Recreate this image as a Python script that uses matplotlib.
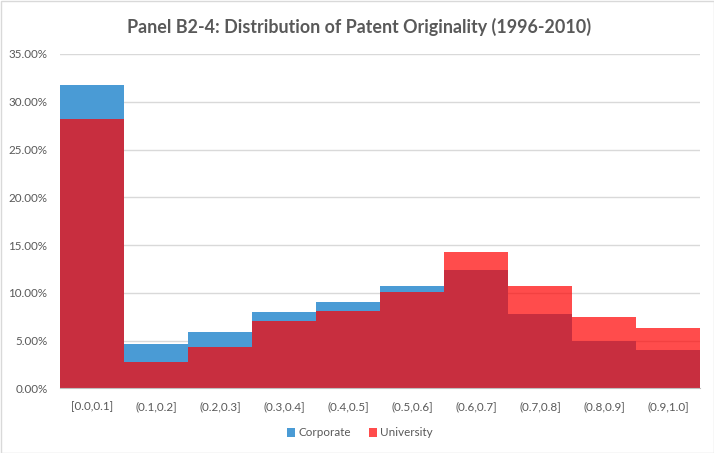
import matplotlib
matplotlib.use("Agg")
import matplotlib.pyplot as plt
from matplotlib.patches import Rectangle
from matplotlib.ticker import PercentFormatter
import numpy as np

categories = ["[0.0,0.1]", "(0.1,0.2]", "(0.2,0.3]", "(0.3,0.4]", "(0.4,0.5]",
              "(0.5,0.6]", "(0.6,0.7]", "(0.7,0.8]", "(0.8,0.9]", "(0.9,1.0]"]
corporate = [31.71, 4.64, 5.93, 8.03, 9.04, 10.69, 12.43, 7.82, 4.96, 4.05]
university = [28.19, 2.76, 4.30, 7.05, 8.13, 10.12, 14.31, 10.69, 7.47, 6.29]
yticks = [0, 5, 10, 15, 20, 25, 30, 35]

plt.rcParams['font.family'] = ['Lato', 'DejaVu Sans']
gray = "#595959"

fig = plt.figure(figsize=(7.14, 4.53), dpi=100)
ax = fig.add_axes([60/714, 1-388.3/453, 640/714, (388.3-54)/453])

x = np.arange(len(categories))
ax.bar(x, corporate, width=1.0, color="#4A9BD5", label="Corporate", zorder=2)
ax.bar(x, university, width=1.0, color=(1, 0, 0, 0.7), label="University", zorder=3)

ax.set_xlim(-0.5, len(categories) - 0.5)
ax.set_ylim(0, 35)
ax.set_yticks(yticks)
ax.yaxis.set_major_formatter(PercentFormatter(decimals=2))
ax.set_xticks(x)
ax.set_xticklabels(categories)
ax.tick_params(axis='both', length=0, labelsize=8.4, colors=gray)
ax.tick_params(axis='y', pad=9)
ax.tick_params(axis='x', pad=9)
ax.set_axisbelow(True)
ax.grid(axis='y', color="#d9d9d9", linewidth=1)
for s in ["top", "right", "left"]:
    ax.spines[s].set_visible(False)
ax.spines["bottom"].set_color("#bfbfbf")
ax.spines["bottom"].set_zorder(4)

fig.suptitle("Panel B2-4: Distribution of Patent Originality (1996-2010)",
             x=359/714, y=1-27/453, va='center', fontsize=12.9,
             fontweight='bold', color=gray)

leg = fig.legend(loc='center', bbox_to_anchor=(360/714, 1-433/453), ncol=2,
                 frameon=False, fontsize=8.4, handlelength=0.7, handleheight=0.7,
                 handletextpad=0.3, columnspacing=1.5)
for t in leg.get_texts():
    t.set_color(gray)

fig.patches.append(Rectangle((0.5/714, 0.5/453), 1-1/714, 1-1/453, transform=fig.transFigure,
                             fill=False, edgecolor="#d9d9d9", linewidth=1))

fig.savefig("out.png", dpi=100)
